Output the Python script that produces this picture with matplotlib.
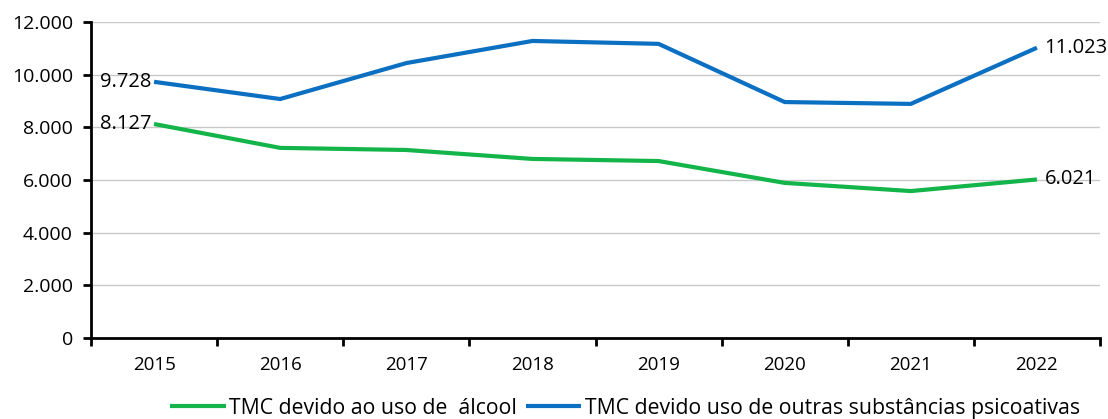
import matplotlib
matplotlib.use('Agg')
from matplotlib import pyplot as plt
from matplotlib.ticker import FuncFormatter

plt.rcParams['font.family'] = ['Open Sans', 'DejaVu Sans']

years = ['2015', '2016', '2017', '2018', '2019', '2020', '2021', '2022']
alcool = [8127, 7220, 7140, 6800, 6720, 5890, 5580, 6021]
outras = [9728, 9075, 10440, 11280, 11170, 8960, 8890, 11023]

green = '#13b54a'
blue = '#0b6fc2'

fig = plt.figure(figsize=(11.08, 4.19), dpi=100)
ax = fig.add_axes([91/1108, (419-338)/419, (1100-91)/1108, (338-22)/419])

x = list(range(len(years)))
ax.plot(x, alcool, color=green, lw=3, label='TMC devido ao uso de  álcool', solid_capstyle='butt')
ax.plot(x, outras, color=blue, lw=3, label='TMC devido uso de outras substâncias psicoativas', solid_capstyle='butt')

def fmt(v):
    return f'{v:,.0f}'.replace(',', '.')

# end labels
ax.text(x[0] - 0.02, alcool[0], fmt(alcool[0]), ha='right', va='center', fontsize=14.5)
ax.text(x[0] - 0.02, outras[0], fmt(outras[0]), ha='right', va='center', fontsize=14.5)
ax.text(x[-1] + 0.06, alcool[-1], fmt(alcool[-1]), ha='left', va='center', fontsize=14.5)
ax.text(x[-1] + 0.06, outras[-1], fmt(outras[-1]), ha='left', va='center', fontsize=14.5)

ax.set_xlim(-0.5, len(years) - 0.5)
ax.set_ylim(0, 12000)
ax.set_yticks(range(0, 12001, 2000))
ax.yaxis.set_major_formatter(FuncFormatter(lambda v, p: fmt(v)))
ax.set_xticks([i - 0.5 for i in range(len(years) + 1)])
ax.set_xticklabels([])
ax.set_xticks(x, minor=True)
ax.set_xticklabels(years, minor=True)
ax.tick_params(axis='x', which='minor', length=0, pad=13, labelsize=13.5)
ax.tick_params(axis='x', which='major', length=6, width=2, direction='out')
ax.tick_params(axis='y', length=6, width=2, direction='out', labelsize=14, pad=7)

ax.grid(axis='y', color='#c8c8c8', lw=1)
ax.set_axisbelow(True)
for s in ['top', 'right']:
    ax.spines[s].set_visible(False)
for s in ['left', 'bottom']:
    ax.spines[s].set_linewidth(2)

fig.legend(loc='center', bbox_to_anchor=(625/1108, 1 - 408/419), ncol=2, frameon=False,
           fontsize=15.3, handlelength=2.6, handletextpad=0.15, columnspacing=0.45)

fig.savefig('out.png', dpi=100)
